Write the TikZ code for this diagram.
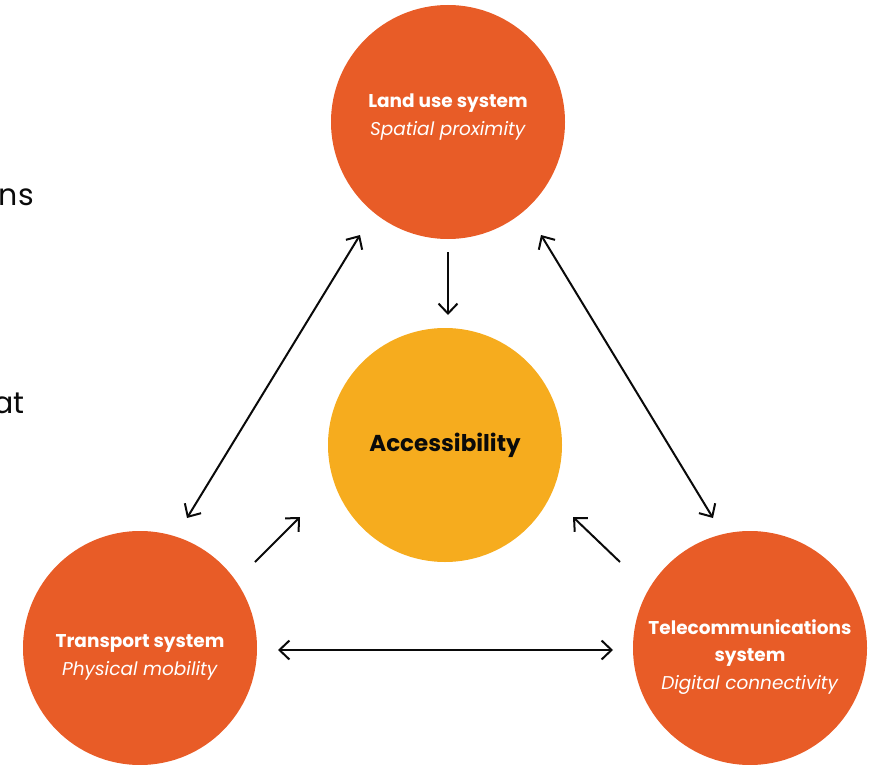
\documentclass[tikz,border=0pt]{standalone}
\usepackage{fontspec}
\setmainfont{Poppins}
\usetikzlibrary{arrows.meta,positioning}
\definecolor{rust}{RGB}{232,92,39}
\definecolor{gold}{RGB}{246,172,30}
\definecolor{ink}{RGB}{10,10,10}
\tikzset{
  >={Straight Barb[length=10pt,width=19pt,line width=2pt]},
  sys/.style={circle,fill=#1,minimum size=234pt,inner sep=0pt},
  sys/.default=rust,
  caption/.style={text=white,align=center,inner sep=0pt,font=\fontsize{18.5}{28}\selectfont},
  link/.style={line width=2pt,draw=ink},
  cut/.style={font=\fontsize{30}{40}\selectfont,text=ink,anchor=east,inner sep=0pt},
}
\begin{document}
\begin{tikzpicture}[x=1pt,y=-1pt]
    \useasboundingbox (0,0) rectangle (876,765);
    % side text cut off by the frame
    \node[cut] (t1) at (34,197) {ns};
    \node[cut] (t2) at (25,403) {at};
    % systems
    \node[sys] (land) at (448,122) {};
    \node[sys=gold] (acc) at (445,445) {};
    \node[sys] (trans) at (140,648) {};
    \node[sys] (tele) at (750,648) {};
    \node[caption] (landtxt) at ([yshift=5pt]land.center) {\textbf{Land use system}\\\textit{Spatial proximity}};
    \node[caption,text=ink,font=\fontsize{23}{28}\selectfont\bfseries] (acctxt) at (acc.center) {Accessibility};
    \node[caption] (transtxt) at ([yshift=-9pt]trans.center) {\textbf{Transport system}\\\textit{Physical mobility}};
    \node[caption,font=\fontsize{18.5}{27.5}\selectfont] (teletxt) at ([yshift=-9pt]tele.center) {\textbf{Telecommunications}\\\textbf{system}\\\textit{Digital connectivity}};
    % connector ends
    \coordinate (a1) at (448,252); \coordinate (a2) at (448,315);
    \coordinate (b1) at (360,235); \coordinate (b2) at (187,518);
    \coordinate (c1) at (541,235); \coordinate (c2) at (713,518);
    \coordinate (d1) at (278,650); \coordinate (d2) at (613,650);
    \coordinate (e1) at (255,562); \coordinate (e2) at (300,517);
    \coordinate (f1) at (620,562); \coordinate (f2) at (573,517);
    \draw[link,->] (a1) -- (a2);
    \draw[link,<->] (b1) -- (b2);
    \draw[link,<->] (c1) -- (c2);
    \draw[link,<->] (d1) -- (d2);
    \draw[link,->] (e1) -- (e2);
    \draw[link,->] (f1) -- (f2);
\end{tikzpicture}
\end{document}
